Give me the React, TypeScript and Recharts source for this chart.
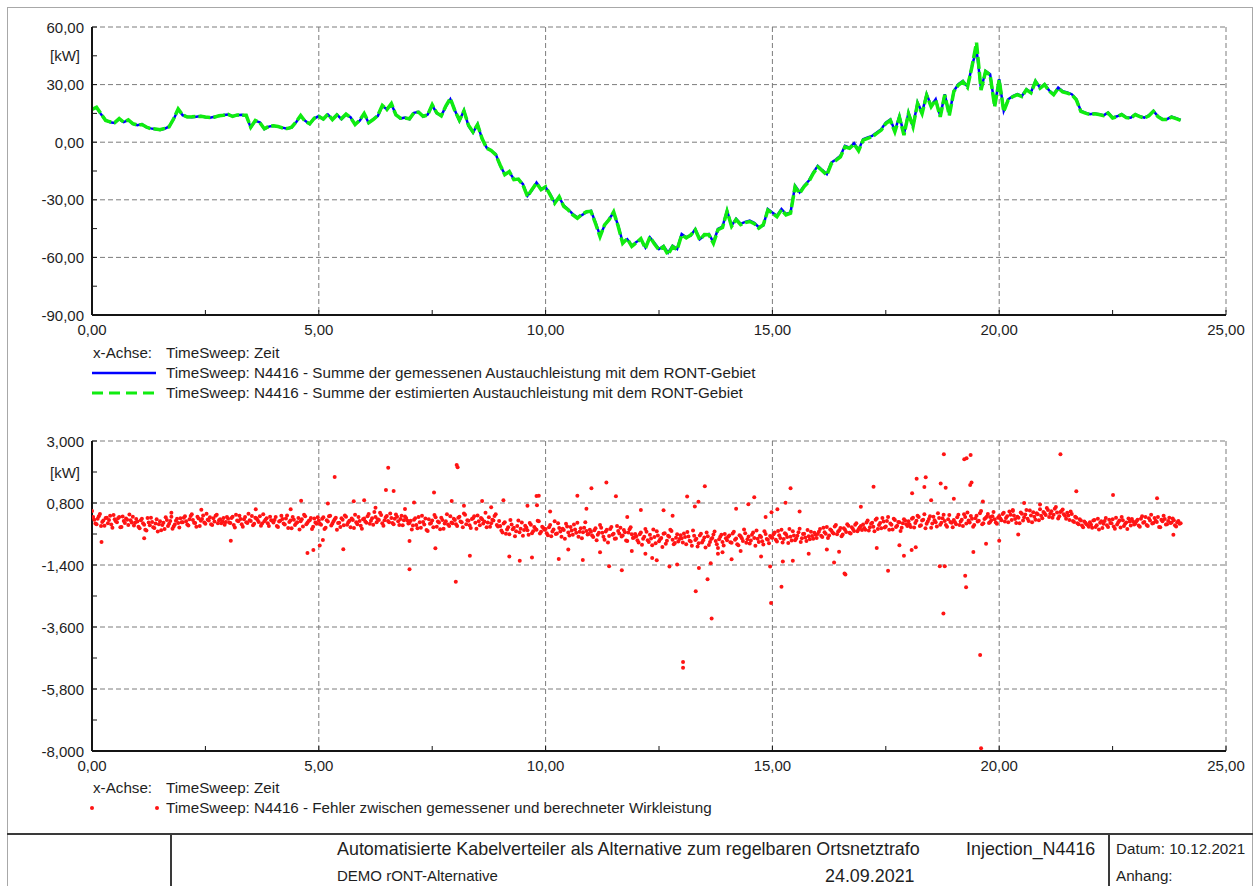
import React from "react";
import {
  LineChart,
  Line,
  ScatterChart,
  Scatter,
  XAxis,
  YAxis,
  CartesianGrid,
} from "recharts";

// Zeitachse: Stunden
const X_TICKS = [0, 2.5, 5, 7.5, 10, 12.5, 15, 17.5, 20, 22.5, 25];
const X_LABELS = ["0,00", "", "5,00", "", "10,00", "", "15,00", "", "20,00", "", "25,00"];
const X_GRID = [5, 10, 15, 20, 25];

// oberes Diagramm (Austauschleistung, kW)
const P_TICKS = [60, 45, 30, 15, 0, -15, -30, -45, -60, -75, -90];
const P_LABELS = ["60,00", "[kW]", "30,00", "", "0,00", "", "-30,00", "", "-60,00", "", "-90,00"];
const P_GRID = [60, 30, 0, -30, -60];

// unteres Diagramm (Fehler, kW)
const E_TICKS = [3.0, 1.9, 0.8, -0.3, -1.4, -2.5, -3.6, -4.7, -5.8, -6.9, -8.0];
const E_LABELS = ["3,000", "[kW]", "0,800", "", "-1,400", "", "-3,600", "", "-5,800", "", "-8,000"];
const E_GRID = [3.0, 0.8, -1.4, -3.6, -5.8];

const LINE_STEP_H = 0.1;
const ERROR_STEP_H = 0.05;
const ERROR_OFFSET_H = 0.025;

// gemessene Austauschleistung, alle 0,1 h
const measuredKw = [
  17.2, 18.0, 14.5, 11.5, 10.4, 10.0, 12.0, 10.5, 11.5, 9.5,
  8.8, 9.4, 7.8, 7.2, 6.8, 6.4, 7.0, 8.2, 12.0, 17.0,
  14.0, 13.3, 13.0, 13.3, 13.6, 13.0, 12.8, 13.2, 13.6, 14.2,
  14.4, 13.5, 14.0, 14.3, 13.9, 7.6, 11.1, 10.4, 6.8, 8.1,
  8.6, 8.0, 7.6, 7.0, 7.6, 10.4, 13.7, 11.1, 9.4, 12.3,
  13.6, 11.9, 14.4, 12.0, 14.4, 12.0, 14.4, 13.0, 9.4, 11.1,
  14.8, 10.0, 12.0, 13.6, 18.9, 17.2, 19.8, 14.4, 12.3, 12.8,
  12.0, 15.3, 15.8, 13.3, 14.4, 19.2, 15.1, 13.9, 18.5, 22.4,
  16.6, 11.1, 16.6, 8.5, 5.0, 9.4, 1.6, -2.8, -4.5, -6.2,
  -12.3, -16.6, -15.6, -19.2, -19.5, -21.8, -27.9, -25.0, -21.0, -24.4,
  -23.5, -27.0, -31.4, -28.7, -33.0, -35.0, -37.4, -39.2, -38.0, -36.5,
  -35.7, -41.8, -48.7, -43.4, -40.0, -36.6, -43.4, -52.2, -50.5, -53.9,
  -52.0, -50.5, -54.8, -49.6, -52.5, -55.6, -54.0, -57.6, -53.9, -55.6,
  -47.8, -49.5, -48.7, -45.2, -50.5, -48.5, -47.8, -52.2, -45.2, -44.0,
  -35.7, -43.4, -39.9, -42.5, -41.5, -40.8, -42.0, -44.3, -43.4, -34.8,
  -36.6, -38.3, -34.8, -37.4, -36.6, -22.7, -26.1, -22.7, -20.1, -15.8,
  -12.3, -14.5, -16.6, -10.6, -9.0, -7.1, -1.9, -2.8, -0.5, -4.0,
  1.6, 2.5, 3.3, 5.0, 6.8, 10.2, 11.9, 5.9, 13.6, 4.2,
  15.4, 8.5, 20.6, 15.4, 25.0, 18.9, 22.4, 13.6, 25.0, 14.4,
  26.7, 30.2, 31.9, 29.0, 39.7, 48.5, 27.6, 37.1, 35.4, 18.9,
  32.8, 16.3, 22.4, 24.0, 25.0, 24.1, 27.6, 26.0, 31.9, 28.4,
  30.2, 27.0, 25.0, 28.4, 26.5, 25.9, 25.0, 22.4, 16.3, 15.4,
  14.6, 15.0, 14.6, 14.0, 15.4, 12.8, 13.5, 14.6, 13.0, 12.8,
  14.6, 13.5, 12.8, 14.0, 16.3, 13.5, 12.0, 12.0, 13.3, 12.5,
  11.6,
];

// estimierte Austauschleistung, alle 0,1 h
const estimatedKw = [
  17.0, 18.2, 14.8, 11.3, 10.6, 10.2, 12.3, 10.4, 11.6, 9.7,
  8.9, 9.2, 7.9, 7.0, 6.9, 6.5, 7.2, 8.0, 12.2, 17.3,
  14.2, 13.1, 13.2, 13.4, 13.5, 13.1, 12.9, 13.0, 13.8, 14.0,
  14.5, 13.4, 14.2, 14.1, 14.0, 7.8, 11.3, 10.2, 7.0, 8.3,
  8.5, 8.2, 7.4, 7.1, 7.8, 10.6, 13.9, 10.8, 9.6, 12.5,
  13.4, 12.1, 14.6, 11.8, 14.2, 12.3, 14.6, 12.8, 9.2, 11.4,
  15.0, 10.2, 11.8, 13.9, 19.2, 17.0, 20.1, 14.2, 12.5, 12.6,
  12.2, 15.5, 15.6, 13.5, 14.2, 19.5, 15.3, 13.7, 18.8, 22.8,
  16.4, 11.4, 16.3, 8.8, 5.3, 9.1, 1.9, -3.1, -4.3, -6.5,
  -12.0, -16.9, -15.3, -19.5, -19.2, -22.2, -28.3, -24.6, -21.3, -24.7,
  -23.2, -27.4, -31.8, -28.4, -33.4, -35.3, -37.9, -39.6, -37.6, -36.2,
  -36.0, -42.3, -49.2, -43.1, -40.4, -36.3, -43.8, -52.7, -50.2, -54.3,
  -52.4, -50.2, -55.3, -49.3, -53.0, -56.1, -54.4, -58.6, -54.3, -56.0,
  -48.3, -49.9, -48.3, -45.6, -50.9, -48.1, -48.2, -52.7, -45.6, -44.4,
  -36.0, -43.8, -40.3, -42.9, -41.9, -41.3, -42.4, -44.8, -43.0, -35.3,
  -37.0, -38.8, -35.2, -37.9, -37.0, -23.2, -26.6, -23.1, -20.6, -16.3,
  -12.8, -14.9, -17.1, -11.1, -9.5, -7.6, -2.4, -3.2, -1.0, -4.5,
  1.1, 2.0, 2.8, 4.6, 6.3, 9.7, 11.4, 5.4, 13.0, 3.7,
  14.9, 8.0, 20.2, 14.9, 24.5, 18.5, 22.0, 13.2, 24.6, 14.0,
  26.4, 29.8, 31.5, 28.6, 39.4, 51.8, 27.2, 36.8, 35.0, 18.5,
  32.5, 16.0, 22.0, 23.7, 24.8, 23.8, 27.3, 25.7, 31.6, 28.1,
  30.0, 26.7, 24.7, 28.1, 26.2, 25.6, 24.7, 22.1, 16.0, 15.1,
  14.4, 14.8, 14.4, 13.8, 15.2, 12.6, 13.3, 14.4, 12.8, 12.6,
  14.4, 13.3, 12.6, 13.8, 16.1, 13.3, 11.8, 11.8, 13.1, 12.3,
  11.4,
];

// Fehler gemessen - berechnet, Grundband alle 0,05 h (volle Stützstellen)
const errorBandKw = [
  0.52, 0.21, 0.05, 0.33, -0.02, 0.18, 0.27, 0.08, 0.35, -0.08, 0.22, 0.12, 0.30, -0.05, 0.16, 0.25, 0.02, 0.19, 0.31, 0.10,
  0.14, -0.10, 0.24, 0.03, -0.18, 0.11, 0.28, -0.06, 0.07, -0.21, 0.15, 0.02, -0.12, 0.20, 0.06, 0.31, -0.03, 0.17, 0.09, 0.26,
  0.12, 0.33, 0.04, 0.22, 0.40, 0.10, -0.04, 0.25, 0.17, 0.36, 0.06, 0.21, 0.29, 0.02, 0.14, 0.38, 0.19, 0.08, 0.27, 0.13,
  0.24, 0.09, 0.31, -0.07, 0.18, 0.35, 0.05, 0.22, 0.12, 0.42, 0.16, 0.01, 0.28, 0.20, 0.33, 0.07, 0.15, 0.26, -0.02, 0.19,
  0.11, 0.30, -0.05, 0.17, 0.23, 0.04, 0.36, 0.13, -0.10, 0.21, 0.08, 0.27, 0.15, -0.03, 0.33, 0.10, 0.19, -0.12, 0.25, 0.06,
  0.18, 0.03, 0.29, -0.08, 0.14, 0.35, 0.07, 0.22, -0.15, 0.10, 0.26, 0.01, 0.31, 0.12, -0.06, 0.20, 0.38, 0.05, 0.16, -0.11,
  0.25, 0.10, 0.41, 0.17, 0.03, 0.30, 0.22, 0.45, 0.08, 0.19, 0.34, 0.12, 0.27, 0.05, 0.39, 0.15, 0.23, 0.01, 0.32, 0.18,
  0.09, -0.14, 0.21, 0.02, 0.30, -0.08, 0.13, 0.25, -0.19, 0.06, 0.18, 0.37, -0.04, 0.11, 0.28, -0.11, 0.15, 0.04, 0.33, 0.08,
  0.20, -0.02, 0.31, 0.12, 0.43, 0.05, 0.17, -0.09, 0.26, 0.10, 0.36, 0.01, 0.22, 0.14, -0.06, 0.29, 0.08, 0.18, 0.40, -0.03,
  -0.02, -0.25, 0.12, -0.14, -0.31, 0.04, -0.08, -0.20, 0.18, -0.11, -0.36, -0.01, -0.17, 0.09, -0.27, -0.05, -0.15, 0.15, -0.22, -0.09,
  -0.12, -0.34, 0.02, -0.21, 0.15, -0.28, -0.09, -0.40, -0.16, 0.06, -0.25, -0.05, -0.33, -0.14, 0.10, -0.22, -0.45, -0.08, -0.19, -0.30,
  -0.22, -0.41, -0.10, -0.33, 0.02, -0.26, -0.50, -0.15, -0.37, -0.05, -0.29, -0.46, -0.19, -0.08, -0.35, -0.24, -0.55, -0.13, -0.31, -0.42,
  -0.38, -0.60, -0.25, -0.47, -0.12, -0.52, -0.33, -0.70, -0.41, -0.20, -0.56, -0.44, -0.29, -0.65, -0.36, -0.15, -0.50, -0.62, -0.31, -0.48,
  -0.45, -0.28, -0.66, -0.39, -0.57, -0.18, -0.51, -0.74, -0.35, -0.60, -0.42, -0.25, -0.69, -0.48, -0.32, -0.55, -0.80, -0.40, -0.58, -0.30,
  -0.52, -0.35, -0.61, -0.22, -0.46, -0.70, -0.38, -0.55, -0.27, -0.49, -0.64, -0.33, -0.44, -0.18, -0.58, -0.41, -0.67, -0.30, -0.50, -0.37,
  -0.43, -0.25, -0.57, -0.34, -0.15, -0.48, -0.31, -0.62, -0.40, -0.20, -0.52, -0.36, -0.11, -0.45, -0.29, -0.55, -0.38, -0.22, -0.47, -0.33,
  -0.30, -0.12, -0.41, -0.24, -0.05, -0.35, -0.18, -0.28, 0.02, -0.21, -0.09, -0.32, -0.15, 0.05, -0.26, -0.06, -0.19, 0.08, -0.13, -0.02,
  0.04, -0.15, 0.18, -0.06, 0.10, -0.20, 0.25, 0.02, -0.10, 0.14, -0.03, 0.30, 0.07, -0.14, 0.20, -0.01, 0.12, -0.08, 0.22, 0.05,
  0.15, -0.05, 0.28, 0.09, 0.35, -0.02, 0.18, 0.40, 0.06, 0.23, -0.08, 0.31, 0.12, 0.44, 0.03, 0.26, 0.16, -0.04, 0.37, 0.10,
  0.20, 0.05, 0.38, 0.14, -0.02, 0.30, 0.46, 0.11, 0.24, 0.02, 0.35, 0.17, 0.52, 0.08, 0.27, 0.41, 0.13, 0.33, 0.22, 0.06,
  0.34, 0.19, 0.45, 0.27, 0.12, 0.38, 0.52, 0.23, 0.31, 0.08, 0.42, 0.29, 0.55, 0.16, 0.36, 0.47, 0.21, 0.40, 0.58, 0.26,
  0.44, 0.62, 0.30, 0.51, 0.38, 0.66, 0.25, 0.48, 0.57, 0.35, 0.45, 0.20, 0.41, 0.13, 0.28, 0.05, 0.18, -0.06, 0.10, 0.02,
  0.12, -0.08, 0.20, 0.01, -0.14, 0.15, 0.06, 0.27, -0.05, 0.09, 0.22, -0.11, 0.04, 0.18, 0.30, -0.02, 0.11, 0.25, 0.00, 0.14,
  0.07, 0.21, -0.04, 0.33, 0.13, 0.02, 0.26, 0.38, 0.09, 0.17, 0.30, -0.06, 0.15, 0.23, 0.05, 0.28, 0.11, 0.19, -0.03, 0.16,
  0.08,
];

// Grundband, Zwischenstützstellen (je 0,025 h versetzt)
const errorBandMidKw = [
  0.30, 0.07, 0.24, 0.41, 0.13, -0.01, 0.28, 0.20, 0.04, 0.37, 0.15, 0.26, -0.06, 0.32, 0.09, 0.21, 0.39, 0.11, 0.00, 0.23,
  -0.04, 0.19, 0.08, -0.15, 0.27, 0.01, 0.13, -0.09, 0.22, 0.05, -0.17, 0.10, 0.29, -0.02, 0.16, -0.11, 0.04, 0.24, -0.07, 0.12,
  0.28, 0.15, 0.00, 0.34, 0.20, 0.09, 0.31, -0.02, 0.23, 0.11, 0.42, 0.18, 0.05, 0.26, 0.35, 0.08, 0.22, 0.14, 0.03, 0.30,
  0.11, 0.27, 0.02, 0.38, 0.15, 0.23, -0.04, 0.30, 0.09, 0.19, 0.34, 0.06, 0.25, 0.13, -0.01, 0.40, 0.21, 0.08, 0.31, 0.17,
  0.20, -0.02, 0.14, 0.35, 0.07, 0.25, -0.09, 0.18, 0.30, 0.02, 0.12, -0.14, 0.22, 0.38, 0.05, 0.16, 0.27, -0.04, 0.11, 0.29,
  0.06, 0.24, -0.12, 0.19, 0.33, 0.00, 0.15, 0.28, 0.09, -0.05, 0.21, 0.36, 0.03, 0.17, 0.25, -0.09, 0.12, 0.30, -0.01, 0.22,
  0.14, 0.33, 0.06, 0.26, 0.48, 0.12, 0.20, 0.37, -0.01, 0.29, 0.16, 0.43, 0.09, 0.24, 0.31, 0.02, 0.35, 0.19, 0.27, 0.07,
  0.17, 0.00, 0.26, -0.10, 0.12, 0.35, 0.04, -0.16, 0.22, 0.09, -0.06, 0.29, 0.14, -0.13, 0.20, 0.07, 0.40, -0.02, 0.11, 0.24,
  0.05, 0.28, 0.14, -0.06, 0.38, 0.19, 0.01, 0.23, 0.33, -0.11, 0.15, 0.27, 0.07, 0.45, 0.11, -0.04, 0.21, 0.34, 0.02, 0.16,
  -0.18, 0.07, -0.29, -0.06, 0.20, -0.13, -0.38, -0.02, -0.24, 0.11, -0.16, -0.07, -0.33, 0.03, -0.20, -0.11, 0.17, -0.28, -0.04, -0.15,
  -0.27, -0.06, -0.38, -0.14, -0.30, 0.08, -0.21, -0.11, -0.47, -0.03, -0.35, -0.18, 0.04, -0.26, -0.40, -0.10, -0.24, 0.12, -0.32, -0.15,
  -0.35, -0.17, -0.52, -0.26, -0.08, -0.40, -0.21, -0.60, -0.12, -0.33, -0.47, -0.02, -0.28, -0.39, -0.16, -0.53, -0.25, -0.06, -0.44, -0.30,
  -0.52, -0.31, -0.68, -0.40, -0.22, -0.58, -0.46, -0.14, -0.63, -0.35, -0.49, -0.76, -0.27, -0.54, -0.40, -0.19, -0.66, -0.43, -0.57, -0.34,
  -0.60, -0.41, -0.23, -0.54, -0.72, -0.36, -0.47, -0.63, -0.29, -0.52, -0.78, -0.38, -0.58, -0.44, -0.21, -0.66, -0.49, -0.33, -0.71, -0.45,
  -0.40, -0.59, -0.28, -0.50, -0.66, -0.34, -0.45, -0.14, -0.61, -0.39, -0.53, -0.25, -0.72, -0.47, -0.36, -0.56, -0.20, -0.48, -0.63, -0.42,
  -0.31, -0.50, -0.19, -0.44, -0.60, -0.27, -0.41, -0.12, -0.53, -0.35, -0.46, -0.24, -0.58, -0.30, -0.42, -0.16, -0.49, -0.37, -0.26, -0.44,
  -0.22, -0.36, -0.08, -0.29, -0.44, -0.14, -0.25, -0.03, -0.31, -0.17, -0.38, -0.10, -0.23, -0.01, -0.28, -0.12, 0.03, -0.20, -0.07, -0.16,
  -0.09, 0.11, -0.18, 0.06, -0.04, 0.21, -0.12, 0.09, 0.27, -0.07, 0.16, -0.15, 0.03, 0.24, -0.05, 0.13, -0.19, 0.08, 0.18, -0.02,
  0.04, 0.24, -0.07, 0.17, 0.30, 0.01, 0.21, -0.10, 0.14, 0.33, 0.07, 0.19, -0.03, 0.27, 0.10, 0.38, 0.02, 0.22, 0.13, -0.06,
  0.12, 0.29, 0.02, 0.21, 0.40, 0.07, 0.18, 0.34, -0.04, 0.26, 0.14, 0.44, 0.05, 0.23, 0.31, 0.09, 0.19, 0.48, 0.11, 0.28,
  0.25, 0.41, 0.14, 0.33, 0.50, 0.20, 0.36, 0.09, 0.28, 0.46, 0.18, 0.39, 0.24, 0.53, 0.12, 0.31, 0.44, 0.19, 0.35, 0.48,
  0.37, 0.55, 0.42, 0.28, 0.60, 0.46, 0.33, 0.52, 0.40, 0.24, 0.36, 0.50, 0.16, 0.31, 0.08, 0.22, 0.00, 0.14, 0.05, -0.04,
  0.03, 0.18, -0.05, 0.24, 0.10, -0.09, 0.16, 0.01, 0.21, 0.08, -0.03, 0.28, 0.12, -0.07, 0.19, 0.06, -0.12, 0.14, 0.23, 0.04,
  0.15, 0.00, 0.24, 0.10, 0.30, -0.02, 0.18, 0.07, 0.27, 0.13, -0.05, 0.21, 0.35, 0.04, 0.16, 0.09, 0.25, 0.01, 0.12, 0.06,
];

// Ausreißer [Stunde, kW]
const errorOutliers: [number, number][] = [
  [0.21, -0.58], [1.15, -0.45], [1.75, 0.45], [2.41, 0.56], [3.06, -0.54], [3.61, 0.58],
  [4.38, 0.58], [4.61, 0.88], [4.75, -0.97], [4.88, -0.87], [5.02, -0.71], [5.09, -0.51],
  [5.2, 0.78], [5.35, 1.72], [5.54, -0.84], [5.77, 0.86], [6.0, 0.9], [6.25, 0.63],
  [6.48, 1.26], [6.53, 2.05], [6.65, 1.23], [6.9, 0.59], [7.0, -1.55], [7.0, -0.55],
  [7.1, 0.82], [7.54, 1.17], [7.57, -0.81], [7.93, 0.87], [8.02, -1.99], [8.04, 2.15],
  [8.06, 2.07], [8.2, 0.7], [8.33, -1.07], [8.6, 0.87], [8.8, 0.65], [9.07, 0.9],
  [9.2, -1.1], [9.43, -1.25], [9.6, 0.7], [9.7, -1.13], [9.8, 1.05], [9.81, 0.72],
  [9.85, 1.06], [10.1, 0.5], [10.29, -1.19], [10.5, -0.85], [10.7, 1.06], [10.82, -1.22],
  [10.9, 0.6], [11.01, 1.32], [11.2, -0.95], [11.34, 1.53], [11.4, -1.44], [11.55, 1.04],
  [11.68, -1.59], [11.8, 0.3], [11.9, -0.9], [12.1, 0.55], [12.2, -1.0], [12.35, -1.15],
  [12.45, -1.23], [12.6, 0.54], [12.73, -1.45], [12.8, 0.35], [12.9, -1.38], [13.03, -4.84],
  [13.03, -5.05], [13.12, 1.03], [13.29, 0.68], [13.31, -2.33], [13.37, 0.84], [13.38, -1.51],
  [13.51, 1.39], [13.57, -1.91], [13.64, -1.34], [13.66, -3.3], [13.8, -1.0], [13.9, -0.95],
  [14.1, -1.2], [14.2, 0.6], [14.3, -0.9], [14.47, 0.76], [14.6, 1.0], [14.75, -1.1],
  [14.85, 0.3], [14.95, -1.45], [14.97, -2.75], [14.98, 0.47], [15.11, 0.58], [15.2, -2.17],
  [15.23, -1.28], [15.29, 0.81], [15.4, 1.32], [15.45, -1.25], [15.6, 0.5], [15.8, -1.0],
  [16.2, -0.85], [16.36, -1.31], [16.47, -0.93], [16.59, -1.7], [16.61, -1.74], [16.95, 0.67],
  [17.23, 1.38], [17.3, -0.8], [17.55, -1.6], [17.8, -0.7], [17.9, -1.07], [18.07, -0.87],
  [18.08, 1.15], [18.16, -0.77], [18.18, 1.66], [18.35, 1.37], [18.38, 1.71], [18.5, 0.9],
  [18.69, -1.44], [18.71, 1.49], [18.77, -3.12], [18.78, 2.53], [18.8, -1.44], [18.82, 1.34],
  [19.0, 0.95], [19.23, 2.35], [19.25, -1.78], [19.27, -2.19], [19.28, 2.39], [19.36, 1.44],
  [19.37, 2.5], [19.39, 1.53], [19.43, -0.94], [19.58, -4.59], [19.6, -7.9], [19.64, 0.85],
  [19.71, -0.65], [19.8, 0.3], [20.0, -0.54], [20.3, 0.55], [20.42, -0.32], [20.55, 0.8],
  [20.9, 0.75], [21.35, 2.53], [21.7, 1.22], [22.51, 1.08], [23.48, 0.97], [23.84, -0.33],
];

const FONT = '"Liberation Sans", Arial, sans-serif';
const TEXT = "#1e1e1e";
const GRID = "#7c7c7c";
const AXIS = "#141414";
const RED = "#ff1414";

const powerData = measuredKw.map((m, i) => ({
  t: i * LINE_STEP_H,
  m,
  e: estimatedKw[i],
}));

const errorData = [
  ...errorBandKw.map((v, i) => ({ t: i * ERROR_STEP_H, v })),
  ...errorBandMidKw.map((v, i) => ({ t: ERROR_OFFSET_H + i * ERROR_STEP_H, v })),
  ...errorOutliers.map(([t, v]) => ({ t, v })),
];

// Y-Tick nach innen + Beschriftung links
const makeYTick = (ticks: number[], labels: string[]) => (props: any) => {
  const { x, y, payload } = props;
  const label = labels[ticks.indexOf(payload.value)] ?? "";
  return (
    <g>
      <line x1={x} x2={x + 5} y1={y} y2={y} stroke={AXIS} strokeWidth={1} />
      {label && (
        <text
          x={label === "[kW]" ? x - 12 : x - 8}
          y={y}
          textAnchor="end"
          dominantBaseline="central"
          fontSize={15}
          fontFamily={FONT}
          fill={TEXT}
        >
          {label}
        </text>
      )}
    </g>
  );
};

// X-Tick nach innen + Beschriftung unten
const XTick = (props: any) => {
  const { x, y, payload } = props;
  const label = X_LABELS[X_TICKS.indexOf(payload.value)] ?? "";
  return (
    <g>
      <line x1={x} x2={x} y1={y} y2={y - 5} stroke={AXIS} strokeWidth={1} />
      {label && (
        <text
          x={x}
          y={y + 14}
          textAnchor="middle"
          dominantBaseline="central"
          fontSize={15}
          fontFamily={FONT}
          fill={TEXT}
        >
          {label}
        </text>
      )}
    </g>
  );
};

const RedDot = (props: any) => (
  <circle cx={props.cx} cy={props.cy} r={2} fill={RED} />
);

const textStyle: React.CSSProperties = {
  position: "absolute",
  fontFamily: FONT,
  fontSize: 15.2,
  color: TEXT,
  lineHeight: "20px",
  whiteSpace: "nowrap",
};

const Label = ({
  x,
  cy,
  size,
  children,
}: {
  x: number;
  cy: number;
  size?: number;
  children: React.ReactNode;
}) => (
  <div style={{ ...textStyle, left: x, top: cy - 10, fontSize: size ?? 15.2 }}>{children}</div>
);

function PowerChart() {
  return (
    <LineChart
      width={1258}
      height={345}
      data={powerData}
      margin={{ top: 27, right: 32, left: 0, bottom: 0 }}
    >
      <CartesianGrid
        stroke={GRID}
        strokeDasharray="5 3"
        horizontalValues={P_GRID}
        verticalValues={X_GRID}
      />
      <XAxis
        dataKey="t"
        type="number"
        domain={[0, 25]}
        ticks={X_TICKS}
        interval={0}
        height={30}
        tickSize={0}
        tickMargin={0}
        tickLine={false}
        axisLine={{ stroke: AXIS, strokeWidth: 2 }}
        tick={<XTick />}
        allowDataOverflow
      />
      <YAxis
        type="number"
        domain={[-90, 60]}
        ticks={P_TICKS}
        interval={0}
        width={92}
        tickSize={0}
        tickMargin={0}
        tickLine={false}
        axisLine={{ stroke: AXIS, strokeWidth: 2 }}
        tick={makeYTick(P_TICKS, P_LABELS)}
        allowDataOverflow
      />
      <Line
        type="linear"
        dataKey="m"
        stroke="#0000ff"
        strokeWidth={2.5}
        dot={false}
        isAnimationActive={false}
      />
      <Line
        type="linear"
        dataKey="e"
        stroke="#10ec10"
        strokeWidth={3.5}
        strokeDasharray="12 3"
        dot={false}
        isAnimationActive={false}
      />
    </LineChart>
  );
}

function ErrorChart() {
  return (
    <ScatterChart
      width={1258}
      height={381}
      margin={{ top: 41, right: 32, left: 0, bottom: 0 }}
    >
      <CartesianGrid
        stroke={GRID}
        strokeDasharray="5 3"
        horizontalValues={E_GRID}
        verticalValues={X_GRID}
      />
      <XAxis
        dataKey="t"
        type="number"
        domain={[0, 25]}
        ticks={X_TICKS}
        interval={0}
        height={30}
        tickSize={0}
        tickMargin={0}
        tickLine={false}
        axisLine={{ stroke: AXIS, strokeWidth: 2 }}
        tick={<XTick />}
        allowDataOverflow
      />
      <YAxis
        dataKey="v"
        type="number"
        domain={[-8, 3]}
        ticks={E_TICKS}
        interval={0}
        width={92}
        tickSize={0}
        tickMargin={0}
        tickLine={false}
        axisLine={{ stroke: AXIS, strokeWidth: 2 }}
        tick={makeYTick(E_TICKS, E_LABELS)}
        allowDataOverflow
      />
      <Scatter
        data={errorData}
        dataKey="v"
        fill={RED}
        shape={RedDot}
        isAnimationActive={false}
      />
    </ScatterChart>
  );
}

export default function App() {
  return (
    <div style={{ position: "relative", width: 1258, height: 886, background: "#fff", overflow: "hidden" }}>
      <style>{"body{margin:0}"}</style>

      {/* Rahmen */}
      <div style={{ position: "absolute", left: 7, top: 7, width: 1244, height: 900, border: "1.5px solid #a8a8a8" }} />

      <div style={{ position: "absolute", left: 0, top: 0 }}>
        <PowerChart />
      </div>

      {/* Legende oben */}
      <Label x={93} cy={353}>x-Achse:</Label>
      <Label x={166} cy={353}>TimeSweep: Zeit</Label>
      <svg style={{ position: "absolute", left: 90, top: 363, overflow: "visible" }} width={70} height={40}>
        <line x1={2} x2={66} y1={10} y2={10} stroke="#0000ff" strokeWidth={2.5} />
        <line x1={2} x2={66} y1={30} y2={30} stroke="#10ec10" strokeWidth={3} strokeDasharray="11 6" />
      </svg>
      <Label x={166} cy={373}>TimeSweep: N4416 - Summe der gemessenen Austauchleistung mit dem RONT-Gebiet</Label>
      <Label x={166} cy={393}>TimeSweep: N4416 - Summe der estimierten Austauchleistung mit dem RONT-Gebiet</Label>

      <div style={{ position: "absolute", left: 0, top: 400 }}>
        <ErrorChart />
      </div>

      {/* Legende unten */}
      <Label x={93} cy={788}>x-Achse:</Label>
      <Label x={166} cy={788}>TimeSweep: Zeit</Label>
      <svg style={{ position: "absolute", left: 88, top: 803, overflow: "visible" }} width={74} height={10}>
        <circle cx={4} cy={5} r={2} fill={RED} />
        <circle cx={69} cy={5} r={2} fill={RED} />
      </svg>
      <Label x={166} cy={808}>TimeSweep: N4416 - Fehler zwischen gemessener und berechneter Wirkleistung</Label>

      {/* Schriftfeld */}
      <div style={{ position: "absolute", left: 7, top: 833, width: 1246, height: 2, background: "#3a3a3a" }} />
      <div style={{ position: "absolute", left: 170, top: 834, width: 2, height: 60, background: "#3a3a3a" }} />
      <div style={{ position: "absolute", left: 1108, top: 834, width: 2, height: 60, background: "#3a3a3a" }} />
      <Label x={337} cy={849} size={17.9}>Automatisierte Kabelverteiler als Alternative zum regelbaren Ortsnetztrafo</Label>
      <Label x={966} cy={849} size={17.9}>Injection_N4416</Label>
      <Label x={1116} cy={849} size={15.2}>Datum: 10.12.2021</Label>
      <Label x={337} cy={876} size={15}>DEMO rONT-Alternative</Label>
      <Label x={825} cy={876} size={17.9}>24.09.2021</Label>
      <Label x={1116} cy={876} size={15.2}>Anhang:</Label>
    </div>
  );
}
